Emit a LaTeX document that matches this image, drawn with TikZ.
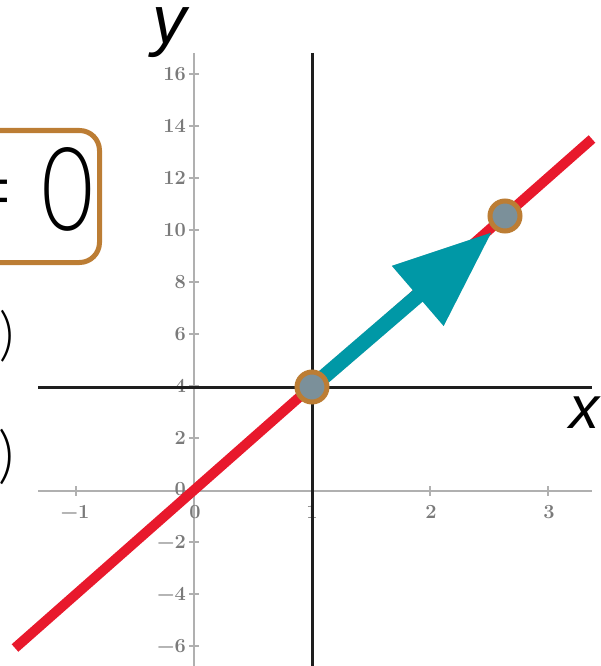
\documentclass[tikz,border=0pt]{standalone}
\usepackage{fontspec}
\newfontfamily\sansreg{Liberation Sans}
\newfontfamily\lightsans{Lato Light}
\newfontfamily\lightnarrow[FakeStretch=0.78]{Lato Light}
\usetikzlibrary{arrows.meta}
\definecolor{redline}{HTML}{E8192C}
\definecolor{tealarrow}{HTML}{0098A6}
\definecolor{ochre}{HTML}{BC7D34}
\definecolor{dotfill}{HTML}{7B909A}
\definecolor{axisgray}{HTML}{B0B0B0}
\definecolor{labgray}{HTML}{7A7A7A}
\definecolor{darkline}{HTML}{1E1E1E}
\newcommand{\ticklabelfont}{\bfseries\fontsize{20}{22}\selectfont}
\tikzset{
  grayaxis/.style={axisgray, line width=2.2pt},
  darkaxis/.style={darkline, line width=3pt},
  tickmark/.style={axisgray, line width=1.4pt},
  ylab/.style={anchor=east, inner sep=0pt, text=labgray, font=\ticklabelfont},
  xlab/.style={anchor=center, inner sep=0pt, text=labgray, font=\ticklabelfont},
  dotnode/.style={circle, fill=dotfill, draw=ochre, line width=5pt, minimum size=30pt, inner sep=0pt},
  biglabel/.style={inner sep=0pt, text=black},
  axisname/.style={inner sep=0pt, anchor=base, text=black},
  bigarrow/.style={line width=15pt, -{Triangle[length=98pt,width=75pt]}}
}
\begin{document}
\begin{tikzpicture}[x=1pt,y=-1pt]
\useasboundingbox (0,0) rectangle (601,666);
\draw[grayaxis] (38,491) -- (592,491);
\draw[grayaxis] (194,53) -- (194,666);
\draw[tickmark] (189,74) -- (199,74);
\draw[tickmark] (189,126) -- (199,126);
\draw[tickmark] (189,178) -- (199,178);
\draw[tickmark] (189,230) -- (199,230);
\draw[tickmark] (189,282) -- (199,282);
\draw[tickmark] (189,334) -- (199,334);
\draw[tickmark] (189,386) -- (199,386);
\draw[tickmark] (189,438) -- (199,438);
\draw[tickmark] (189,490) -- (199,490);
\draw[tickmark] (189,542) -- (199,542);
\draw[tickmark] (189,594) -- (199,594);
\draw[tickmark] (189,646) -- (199,646);
\node[ylab] (yla) at (186,74) {16};
\node[ylab] (ylb) at (186,126) {14};
\node[ylab] (ylc) at (186,178) {12};
\node[ylab] (yld) at (186,230) {10};
\node[ylab] (yle) at (186,282) {8};
\node[ylab] (ylf) at (186,334) {6};
\node[ylab] (ylg) at (186,386) {4};
\node[ylab] (ylh) at (186,438) {2};
\node[ylab] (yli) at (186,489) {0};
\node[ylab] (ylj) at (186,542) {−2};
\node[ylab] (ylk) at (186,594) {−4};
\node[ylab] (yll) at (186,646) {−6};
\draw[tickmark] (76,486) -- (76,496);
\draw[tickmark] (312,486) -- (312,496);
\draw[tickmark] (430,486) -- (430,496);
\draw[tickmark] (548,486) -- (548,496);
\node[xlab] (xla) at (75,512) {−1};
\node[xlab] (xlb) at (195,512) {0};
\node[xlab] (xlc) at (312,512) {1};
\node[xlab] (xld) at (431,512) {2};
\node[xlab] (xle) at (549,512) {3};
\draw[darkaxis] (38,387) -- (592,387);
\draw[darkaxis] (312,53) -- (312,666);
\coordinate (rA) at (15,648);
\coordinate (rB) at (592,139);
\draw[redline, line width=10pt] (rA) -- (rB);
\coordinate (c1) at (312,387);
\coordinate (c2) at (505,216);
\coordinate (tip) at (492,232);
\draw[bigarrow, black, opacity=0.15, xshift=2pt, yshift=-3pt] (c1) -- (tip);
\draw[bigarrow, tealarrow] (c1) -- (tip);
\node[dotnode] (p1) at (c1) {};
\node[dotnode] (p2) at (c2) {};
\node[axisname, font=\sansreg\itshape\fontsize{68}{68}\selectfont] (ylabel) at (169,44) {y};
\node[axisname, font=\sansreg\itshape\fontsize{60}{60}\selectfont] (xlabel) at (584,428) {x};
\draw[ochre, line width=5pt, rounded corners=20pt] (-100,130.5) rectangle (99.5,262.5);
\node[biglabel, anchor=base east, font=\lightnarrow\fontsize{116}{118}\selectfont] (eq) at (94,230) {=\hspace{26pt}0};
\node[biglabel, anchor=east, font=\lightsans\fontsize{58}{60}\selectfont] (pa) at (15,336) {)};
\node[biglabel, anchor=east, font=\lightsans\fontsize{62}{64}\selectfont] (pb) at (15,457) {)};
\end{tikzpicture}
\end{document}
